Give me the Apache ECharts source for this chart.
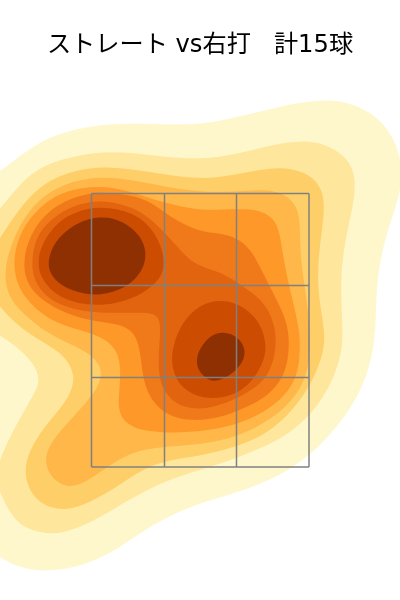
<!DOCTYPE html>
<html>
<head>
<meta charset="utf-8">
<style>
  html, body { margin: 0; padding: 0; background: #fff; }
  #chart { width: 400px; height: 600px; }
</style>
<script src="https://cdn.jsdelivr.net/npm/echarts@6/dist/echarts.min.js"></script>
</head>
<body>
<div id="chart"></div>
<script>
// density bands, lowest level first
const band1 = [[-30,190],[0,172],[33,145],[67,130],[113,123],[150,124],[200,125],[233,118],[267,110],[300,102],[333,99],[360,106],[384,122],[398,147],[402,170],[400,195],[390,223],[381,255],[376,290],[376,330],[371,363],[360,393],[340,424],[310,456],[277,478],[233,494],[200,503],[167,517],[140,533],[113,552],[83,566],[47,572],[20,568],[0,558],[-30,535]];
const band2 = [[-30,240],[0,210],[20,183],[43,165],[77,155],[113,151],[150,155],[200,160],[233,155],[267,146],[300,140],[327,144],[348,158],[356,177],[354,203],[345,240],[340,280],[343,330],[342,352],[333,381],[313,414],[280,441],[237,458],[200,470],[167,480],[133,497],[100,518],[67,533],[43,534],[20,526],[8,510],[-1,490],[-5,476],[2,453],[17,423],[33,396],[41,380],[33,362],[17,347],[0,335],[-30,320]];
const band3 = [[-15,260],[0,238],[20,207],[43,183],[73,170],[110,166],[150,172],[200,180],[233,175],[267,168],[293,168],[314,177],[324,193],[324,217],[319,250],[317,290],[325,330],[324,352],[313,381],[293,411],[267,434],[237,447],[200,456],[167,460],[140,470],[113,490],[83,506],[60,511],[38,503],[26,485],[24,460],[43,427],[68,401],[77,375],[62,352],[33,337],[12,320],[0,307],[-15,285]];
const band4 = [[3,273],[13,237],[33,203],[63,183],[100,176],[133,180],[167,187],[200,192],[233,192],[263,189],[285,193],[298,207],[300,225],[300,253],[305,290],[311,330],[309,377],[288,406],[265,423],[237,437],[200,445],[155,447],[130,453],[110,465],[87,482],[67,489],[49,476],[44,458],[52,440],[73,417],[97,391],[104,370],[90,352],[53,337],[30,320],[9,300]];
const band5 = [[12,263],[20,230],[43,203],[67,190],[100,185],[133,192],[160,202],[200,211],[233,209],[258,209],[274,218],[280,233],[283,257],[290,290],[300,330],[300,355],[297,377],[285,396],[265,412],[237,425],[200,432],[163,433],[131,429],[117,413],[120,387],[121,357],[108,339],[80,330],[47,320],[19,293]];
const band6 = [[22,260],[33,227],[57,203],[90,192],[115,193],[140,197],[155,205],[175,220],[200,232],[220,233],[238,238],[251,250],[260,267],[270,287],[282,310],[289,330],[289,355],[284,377],[268,396],[247,407],[217,419],[190,421],[167,416],[149,398],[142,375],[140,343],[128,324],[90,322],[50,307],[27,287]];
const band7 = [[31,260],[37,233],[57,214],[80,203],[105,200],[133,207],[150,218],[165,233],[180,250],[192,262],[205,268],[220,272],[237,282],[253,293],[268,307],[276,330],[276,352],[268,378],[247,394],[213,409],[183,409],[164,394],[157,370],[161,330],[159,315],[145,312],[92,314],[53,304],[34,283]];
const band8a = [[37,263],[42,243],[57,222],[77,211],[100,206],[133,212],[151,227],[161,245],[165,263],[161,279],[143,294],[117,304],[87,306],[59,298],[42,281]];
const band8b = [[222,299],[244,306],[261,323],[267,347],[263,364],[248,388],[223,399],[197,398],[177,384],[171,363],[173,345],[182,322],[200,304]];
const band9a = [[48,260],[54,242],[73,224],[100,215],[124,221],[141,236],[147,253],[143,271],[127,288],[100,296],[77,293],[57,283],[49,271]];
const band9b = [[223,331],[239,337],[246,350],[243,363],[230,376],[216,382],[206,379],[196,368],[197,352],[209,336]];

const bands = [band1, band2, band3, band4, band5, band6, band7, band8a, band8b, band9a, band9b];
const bandColors = ['#FFF7CC', '#FEE79C', '#FECF69', '#FEB748', '#FE9829', '#F07A1A', '#E2640F', '#CC4C02', '#CC4C02', '#8F3003', '#8F3003'];

// strike zone grid
const zoneX = [91.5, 164.5, 236.5, 309];
const zoneY = [193.5, 285.5, 377.5, 467];

// closed cubic b-spline through the pixel positions of a band
function bandPath(pts) {
  const n = pts.length;
  const at = (i) => pts[(i + n) % n];
  const mix = (a, b, c, k) => [(a[0] + k * b[0] + c[0]) / (k + 2), (a[1] + k * b[1] + c[1]) / (k + 2)];
  const start = mix(at(-1), at(0), at(1), 4);
  let d = `M${start[0]} ${start[1]}`;
  for (let i = 0; i < n; i++) {
    const p = at(i), q = at(i + 1);
    const c1 = [(2 * p[0] + q[0]) / 3, (2 * p[1] + q[1]) / 3];
    const c2 = [(p[0] + 2 * q[0]) / 3, (p[1] + 2 * q[1]) / 3];
    const end = mix(p, q, at(i + 2), 4);
    d += `C${c1[0]} ${c1[1]} ${c2[0]} ${c2[1]} ${end[0]} ${end[1]}`;
  }
  return d + 'Z';
}

const chart = echarts.init(document.getElementById('chart'));

chart.setOption({
  animation: false,
  title: {
    text: 'ストレート vs右打   計15球',
    left: 'center',
    top: 29,
    textStyle: {
      color: '#000',
      fontSize: 24.2,
      fontWeight: 'normal',
      fontFamily: '"DejaVu Sans", "Noto Sans CJK JP", sans-serif'
    }
  },
  grid: { left: 0, right: 0, top: 0, bottom: 0 },
  xAxis: { type: 'value', min: 0, max: 400, show: false },
  yAxis: { type: 'value', min: 0, max: 600, inverse: true, show: false },
  series: [
    {
      type: 'custom',
      silent: true,
      data: bands.map((b, i) => [i]),
      renderItem: (params, api) => ({
        type: 'path',
        shape: { pathData: bandPath(bands[api.value(0)].map((p) => api.coord(p))) },
        style: { fill: bandColors[api.value(0)], stroke: null }
      })
    },
    {
      type: 'custom',
      silent: true,
      data: [[0]],
      renderItem: (params, api) => {
        const lineStyle = { stroke: '#808080', lineWidth: 1.5, fill: null };
        const top = zoneY[0], bottom = zoneY[zoneY.length - 1];
        const left = zoneX[0], right = zoneX[zoneX.length - 1];
        const verticals = zoneX.map((x) => {
          const a = api.coord([x, top]), b = api.coord([x, bottom]);
          return { type: 'line', shape: { x1: a[0], y1: a[1], x2: b[0], y2: b[1] }, style: lineStyle };
        });
        const horizontals = zoneY.map((y) => {
          const a = api.coord([left, y]), b = api.coord([right, y]);
          return { type: 'line', shape: { x1: a[0], y1: a[1], x2: b[0], y2: b[1] }, style: lineStyle };
        });
        return { type: 'group', children: verticals.concat(horizontals) };
      }
    }
  ]
});

window.addEventListener('resize', () => chart.resize());
</script>
</body>
</html>
